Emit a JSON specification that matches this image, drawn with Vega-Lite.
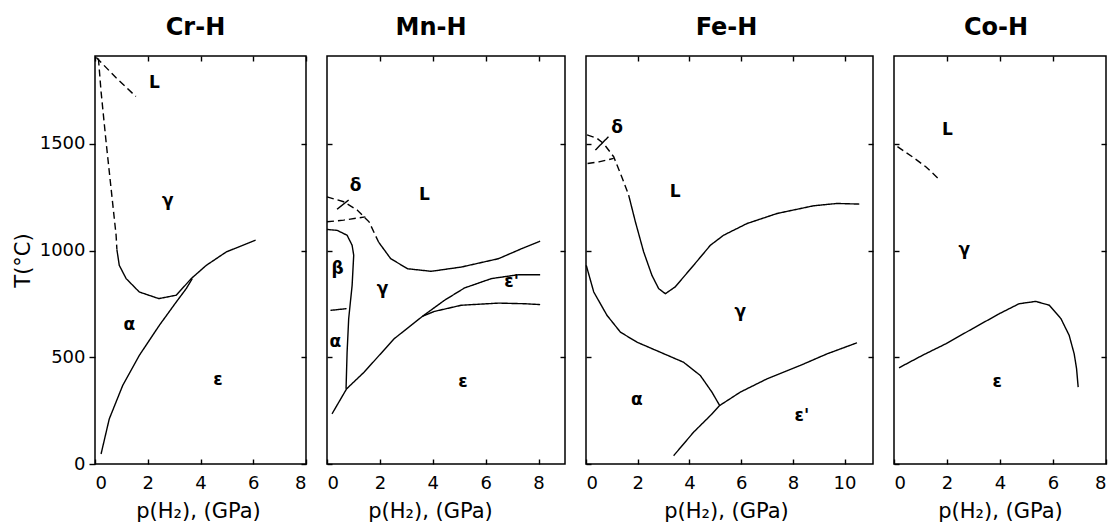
{
  "$schema": "https://vega.github.io/schema/vega-lite/v6.json",
  "background": "white",
  "padding": {"left": 11, "top": 14, "right": 2, "bottom": 5},
  "config": {
    "font": "DejaVu Sans",
    "view": {"stroke": "black", "strokeWidth": 1.5},
    "axis": {"domain": false, "grid": false, "labelFont": "DejaVu Sans", "labelFontSize": 18, "labelColor": "black", "tickColor": "black", "tickWidth": 1.4, "titleFont": "DejaVu Sans", "titleFontSize": 21, "titleFontWeight": "normal", "titleColor": "black"},
    "title": {"font": "DejaVu Sans", "fontSize": 24, "fontWeight": "bold", "color": "black", "baseline": "alphabetic", "offset": 15, "frame": "group", "anchor": "middle"},
    "line": {"color": "black", "strokeWidth": 1.4},
    "text": {"font": "DejaVu Sans", "fontSize": 17, "fontWeight": "bold", "color": "black", "align": "center", "baseline": "middle"}
  },
  "datasets": {
    "cr": [
      {"seg": "c1", "status": "estimated", "i": 0, "p": 0.05, "T": 1905},
      {"seg": "c1", "status": "estimated", "i": 1, "p": 0.8, "T": 1810},
      {"seg": "c1", "status": "estimated", "i": 2, "p": 1.55, "T": 1722},
      {"seg": "c2", "status": "estimated", "i": 0, "p": 0.13, "T": 1900},
      {"seg": "c2", "status": "estimated", "i": 1, "p": 0.23, "T": 1745},
      {"seg": "c2", "status": "estimated", "i": 2, "p": 0.42, "T": 1510},
      {"seg": "c2", "status": "estimated", "i": 3, "p": 0.61, "T": 1291},
      {"seg": "c2", "status": "estimated", "i": 4, "p": 0.8, "T": 1072},
      {"seg": "c2", "status": "estimated", "i": 5, "p": 0.83, "T": 1005},
      {"seg": "c3", "status": "measured", "i": 0, "p": 0.83, "T": 1005},
      {"seg": "c3", "status": "measured", "i": 1, "p": 0.92, "T": 931},
      {"seg": "c3", "status": "measured", "i": 2, "p": 1.18, "T": 869},
      {"seg": "c3", "status": "measured", "i": 3, "p": 1.68, "T": 806},
      {"seg": "c3", "status": "measured", "i": 4, "p": 2.42, "T": 775},
      {"seg": "c3", "status": "measured", "i": 5, "p": 3.08, "T": 791},
      {"seg": "c3", "status": "measured", "i": 6, "p": 3.65, "T": 869},
      {"seg": "c3", "status": "measured", "i": 7, "p": 4.22, "T": 931},
      {"seg": "c3", "status": "measured", "i": 8, "p": 4.98, "T": 994},
      {"seg": "c3", "status": "measured", "i": 9, "p": 6.09, "T": 1049},
      {"seg": "c4", "status": "measured", "i": 0, "p": 0.23, "T": 47},
      {"seg": "c4", "status": "measured", "i": 1, "p": 0.54, "T": 211},
      {"seg": "c4", "status": "measured", "i": 2, "p": 1.05, "T": 368},
      {"seg": "c4", "status": "measured", "i": 3, "p": 1.68, "T": 509},
      {"seg": "c4", "status": "measured", "i": 4, "p": 2.44, "T": 650},
      {"seg": "c4", "status": "measured", "i": 5, "p": 3.08, "T": 759},
      {"seg": "c4", "status": "measured", "i": 6, "p": 3.46, "T": 822},
      {"seg": "c4", "status": "measured", "i": 7, "p": 3.69, "T": 869}
    ],
    "cr_lab": [
      {"label": "L", "p": 2.25, "T": 1784},
      {"label": "γ", "p": 2.76, "T": 1232},
      {"label": "α", "p": 1.3, "T": 650},
      {"label": "ε", "p": 4.66, "T": 394}
    ],
    "mn": [
      {"seg": "m1", "status": "estimated", "i": 0, "p": 0, "T": 1252},
      {"seg": "m1", "status": "estimated", "i": 1, "p": 0.63, "T": 1229},
      {"seg": "m1", "status": "estimated", "i": 2, "p": 1.14, "T": 1190},
      {"seg": "m1", "status": "estimated", "i": 3, "p": 1.59, "T": 1135},
      {"seg": "m1", "status": "estimated", "i": 4, "p": 1.95, "T": 1040},
      {"seg": "m2", "status": "measured", "i": 0, "p": 1.95, "T": 1040},
      {"seg": "m2", "status": "measured", "i": 1, "p": 2.41, "T": 962},
      {"seg": "m2", "status": "measured", "i": 2, "p": 3.05, "T": 915},
      {"seg": "m2", "status": "measured", "i": 3, "p": 3.94, "T": 903},
      {"seg": "m2", "status": "measured", "i": 4, "p": 5.08, "T": 923},
      {"seg": "m2", "status": "measured", "i": 5, "p": 6.48, "T": 962},
      {"seg": "m2", "status": "measured", "i": 6, "p": 7.36, "T": 1009},
      {"seg": "m2", "status": "measured", "i": 7, "p": 8.06, "T": 1044},
      {"seg": "m3", "status": "estimated", "i": 0, "p": 0, "T": 1135},
      {"seg": "m3", "status": "estimated", "i": 1, "p": 0.63, "T": 1143},
      {"seg": "m3", "status": "estimated", "i": 2, "p": 1.45, "T": 1158},
      {"seg": "m4", "status": "measured", "i": 0, "p": 0.38, "T": 1194},
      {"seg": "m4", "status": "measured", "i": 1, "p": 0.82, "T": 1237},
      {"seg": "m5", "status": "measured", "i": 0, "p": 0, "T": 1099},
      {"seg": "m5", "status": "measured", "i": 1, "p": 0.38, "T": 1095},
      {"seg": "m5", "status": "measured", "i": 2, "p": 0.76, "T": 1072},
      {"seg": "m5", "status": "measured", "i": 3, "p": 0.95, "T": 1025},
      {"seg": "m5", "status": "measured", "i": 4, "p": 1.01, "T": 978},
      {"seg": "m5", "status": "measured", "i": 5, "p": 0.95, "T": 837},
      {"seg": "m5", "status": "measured", "i": 6, "p": 0.82, "T": 681},
      {"seg": "m5", "status": "measured", "i": 7, "p": 0.76, "T": 524},
      {"seg": "m5", "status": "measured", "i": 8, "p": 0.72, "T": 352},
      {"seg": "m6", "status": "measured", "i": 0, "p": 0.13, "T": 720},
      {"seg": "m6", "status": "measured", "i": 1, "p": 0.74, "T": 728},
      {"seg": "m7", "status": "measured", "i": 0, "p": 0.19, "T": 235},
      {"seg": "m7", "status": "measured", "i": 1, "p": 0.74, "T": 352},
      {"seg": "m7", "status": "measured", "i": 2, "p": 1.4, "T": 430},
      {"seg": "m7", "status": "measured", "i": 3, "p": 2.54, "T": 587},
      {"seg": "m7", "status": "measured", "i": 4, "p": 3.62, "T": 693},
      {"seg": "m7", "status": "measured", "i": 5, "p": 4.44, "T": 767},
      {"seg": "m7", "status": "measured", "i": 6, "p": 5.2, "T": 825},
      {"seg": "m7", "status": "measured", "i": 7, "p": 6.22, "T": 869},
      {"seg": "m7", "status": "measured", "i": 8, "p": 7.24, "T": 887},
      {"seg": "m7", "status": "measured", "i": 9, "p": 8.06, "T": 887},
      {"seg": "m8", "status": "measured", "i": 0, "p": 3.62, "T": 693},
      {"seg": "m8", "status": "measured", "i": 1, "p": 4.06, "T": 715},
      {"seg": "m8", "status": "measured", "i": 2, "p": 5.08, "T": 744},
      {"seg": "m8", "status": "measured", "i": 3, "p": 6.48, "T": 754},
      {"seg": "m8", "status": "measured", "i": 4, "p": 7.49, "T": 751},
      {"seg": "m8", "status": "measured", "i": 5, "p": 8.06, "T": 747}
    ],
    "mn_lab": [
      {"label": "δ", "p": 1.08, "T": 1302},
      {"label": "L", "p": 3.68, "T": 1260},
      {"label": "β", "p": 0.4, "T": 915},
      {"label": "γ", "p": 2.1, "T": 819},
      {"label": "ε'", "p": 6.98, "T": 853},
      {"label": "α", "p": 0.32, "T": 571},
      {"label": "ε", "p": 5.14, "T": 384}
    ],
    "fe": [
      {"seg": "f1", "status": "estimated", "i": 0, "p": 0.04, "T": 1542},
      {"seg": "f1", "status": "estimated", "i": 1, "p": 0.43, "T": 1526},
      {"seg": "f1", "status": "estimated", "i": 2, "p": 0.68, "T": 1502},
      {"seg": "f1", "status": "estimated", "i": 3, "p": 1.07, "T": 1440},
      {"seg": "f1", "status": "estimated", "i": 4, "p": 1.4, "T": 1340},
      {"seg": "f1", "status": "estimated", "i": 5, "p": 1.65, "T": 1260},
      {"seg": "f2", "status": "measured", "i": 0, "p": 1.65, "T": 1260},
      {"seg": "f2", "status": "measured", "i": 1, "p": 1.91, "T": 1135},
      {"seg": "f2", "status": "measured", "i": 2, "p": 2.23, "T": 994},
      {"seg": "f2", "status": "measured", "i": 3, "p": 2.55, "T": 884},
      {"seg": "f2", "status": "measured", "i": 4, "p": 2.81, "T": 822},
      {"seg": "f2", "status": "measured", "i": 5, "p": 3.07, "T": 798},
      {"seg": "f2", "status": "measured", "i": 6, "p": 3.45, "T": 830},
      {"seg": "f2", "status": "measured", "i": 7, "p": 4.16, "T": 931},
      {"seg": "f2", "status": "measured", "i": 8, "p": 4.81, "T": 1025},
      {"seg": "f2", "status": "measured", "i": 9, "p": 5.32, "T": 1072},
      {"seg": "f2", "status": "measured", "i": 10, "p": 6.23, "T": 1127},
      {"seg": "f2", "status": "measured", "i": 11, "p": 7.39, "T": 1174},
      {"seg": "f2", "status": "measured", "i": 12, "p": 8.8, "T": 1210},
      {"seg": "f2", "status": "measured", "i": 13, "p": 9.71, "T": 1221},
      {"seg": "f2", "status": "measured", "i": 14, "p": 10.57, "T": 1218},
      {"seg": "f3", "status": "estimated", "i": 0, "p": 0.06, "T": 1408},
      {"seg": "f3", "status": "estimated", "i": 1, "p": 0.5, "T": 1416},
      {"seg": "f3", "status": "estimated", "i": 2, "p": 1.07, "T": 1432},
      {"seg": "f4", "status": "measured", "i": 0, "p": 0.36, "T": 1471},
      {"seg": "f4", "status": "measured", "i": 1, "p": 0.87, "T": 1534},
      {"seg": "f5", "status": "measured", "i": 0, "p": 0.01, "T": 931},
      {"seg": "f5", "status": "measured", "i": 1, "p": 0.3, "T": 806},
      {"seg": "f5", "status": "measured", "i": 2, "p": 0.81, "T": 697},
      {"seg": "f5", "status": "measured", "i": 3, "p": 1.33, "T": 618},
      {"seg": "f5", "status": "measured", "i": 4, "p": 1.97, "T": 571},
      {"seg": "f5", "status": "measured", "i": 5, "p": 2.87, "T": 524},
      {"seg": "f5", "status": "measured", "i": 6, "p": 3.77, "T": 477},
      {"seg": "f5", "status": "measured", "i": 7, "p": 4.42, "T": 415},
      {"seg": "f5", "status": "measured", "i": 8, "p": 4.87, "T": 337},
      {"seg": "f5", "status": "measured", "i": 9, "p": 5.17, "T": 274},
      {"seg": "f6", "status": "measured", "i": 0, "p": 3.39, "T": 39},
      {"seg": "f6", "status": "measured", "i": 1, "p": 4.16, "T": 149},
      {"seg": "f6", "status": "measured", "i": 2, "p": 4.81, "T": 227},
      {"seg": "f6", "status": "measured", "i": 3, "p": 5.17, "T": 274},
      {"seg": "f6", "status": "measured", "i": 4, "p": 5.97, "T": 337},
      {"seg": "f6", "status": "measured", "i": 5, "p": 7.0, "T": 399},
      {"seg": "f6", "status": "measured", "i": 6, "p": 8.29, "T": 462},
      {"seg": "f6", "status": "measured", "i": 7, "p": 9.32, "T": 516},
      {"seg": "f6", "status": "measured", "i": 8, "p": 10.48, "T": 568}
    ],
    "fe_lab": [
      {"label": "δ", "p": 1.2, "T": 1576},
      {"label": "L", "p": 3.45, "T": 1276},
      {"label": "γ", "p": 5.97, "T": 712},
      {"label": "α", "p": 1.97, "T": 298},
      {"label": "ε'", "p": 8.35, "T": 227}
    ],
    "co": [
      {"seg": "k1", "status": "estimated", "i": 0, "p": 0.13, "T": 1487},
      {"seg": "k1", "status": "estimated", "i": 1, "p": 0.69, "T": 1440},
      {"seg": "k1", "status": "estimated", "i": 2, "p": 1.2, "T": 1393},
      {"seg": "k1", "status": "estimated", "i": 3, "p": 1.67, "T": 1338},
      {"seg": "k2", "status": "measured", "i": 0, "p": 0.19, "T": 451},
      {"seg": "k2", "status": "measured", "i": 1, "p": 1.07, "T": 509},
      {"seg": "k2", "status": "measured", "i": 2, "p": 1.95, "T": 563},
      {"seg": "k2", "status": "measured", "i": 3, "p": 2.96, "T": 634},
      {"seg": "k2", "status": "measured", "i": 4, "p": 3.97, "T": 704},
      {"seg": "k2", "status": "measured", "i": 5, "p": 4.72, "T": 751},
      {"seg": "k2", "status": "measured", "i": 6, "p": 5.35, "T": 762},
      {"seg": "k2", "status": "measured", "i": 7, "p": 5.86, "T": 744},
      {"seg": "k2", "status": "measured", "i": 8, "p": 6.3, "T": 681},
      {"seg": "k2", "status": "measured", "i": 9, "p": 6.61, "T": 603},
      {"seg": "k2", "status": "measured", "i": 10, "p": 6.8, "T": 516},
      {"seg": "k2", "status": "measured", "i": 11, "p": 6.89, "T": 446},
      {"seg": "k2", "status": "measured", "i": 12, "p": 6.95, "T": 360}
    ],
    "co_lab": [
      {"label": "L", "p": 2.02, "T": 1565},
      {"label": "γ", "p": 2.65, "T": 1002},
      {"label": "ε", "p": 3.9, "T": 384}
    ]
  },
  "bounds": "flush",
  "spacing": 21,
  "hconcat": [
    {
      "title": {"text": "Cr-H", "dx": -5},
      "width": 211,
      "height": 408,
      "layer": [
        {
          "data": {"name": "cr"},
          "mark": {"type": "line"},
          "encoding": {
            "x": {"field": "p", "type": "quantitative", "scale": {"domain": [0, 8], "nice": false, "zero": false}, "axis": {"orient": "bottom", "values": [0, 2, 4, 6, 8], "tickSize": -5, "labelPadding": 15.5, "title": "p(H₂), (GPa)", "titleBaseline": "alphabetic", "titleY": 53, "titleX": 103}},
            "y": {"field": "T", "type": "quantitative", "scale": {"domain": [0, 1912], "nice": false}, "axis": {"orient": "left", "values": [0, 500, 1000, 1500], "format": "d", "tickSize": 6, "labelPadding": 4, "title": "T(°C)", "titlePadding": 6}},
            "detail": {"field": "seg"},
            "order": {"field": "i"},
            "strokeDash": {"field": "status", "type": "nominal", "scale": {"domain": ["measured", "estimated"], "range": [[1, 0], [7, 4]]}, "legend": null}
          }
        },
        {
          "data": {"name": "cr"},
          "mark": {"type": "point", "opacity": 0},
          "encoding": {
            "x": {"field": "p", "type": "quantitative", "axis": {"orient": "top", "values": [0, 2, 4, 6, 8], "tickSize": -5, "labels": false, "title": null}},
            "y": {"field": "T", "type": "quantitative", "axis": {"orient": "right", "values": [0, 500, 1000, 1500], "tickSize": -5, "labels": false, "title": null}}
          }
        },
        {
          "data": {"name": "cr_lab"},
          "mark": {"type": "text"},
          "encoding": {
            "x": {"field": "p", "type": "quantitative", "axis": null},
            "y": {"field": "T", "type": "quantitative", "axis": null},
            "text": {"field": "label"}
          }
        }
      ],
      "resolve": {"axis": {"x": "independent", "y": "independent"}}
    },
    {
      "title": {"text": "Mn-H", "dx": -15},
      "width": 238,
      "height": 408,
      "layer": [
        {
          "data": {"name": "mn"},
          "mark": {"type": "line"},
          "encoding": {
            "x": {"field": "p", "type": "quantitative", "scale": {"domain": [0, 9], "nice": false, "zero": false}, "axis": {"orient": "bottom", "values": [0, 2, 4, 6, 8], "tickSize": -5, "labelPadding": 15.5, "title": "p(H₂), (GPa)", "titleBaseline": "alphabetic", "titleY": 53, "titleX": 103}},
            "y": {"field": "T", "type": "quantitative", "scale": {"domain": [0, 1912], "nice": false}, "axis": {"orient": "left", "values": [0, 500, 1000, 1500], "tickSize": -5, "labels": false, "title": null}},
            "detail": {"field": "seg"},
            "order": {"field": "i"},
            "strokeDash": {"field": "status", "type": "nominal", "scale": {"domain": ["measured", "estimated"], "range": [[1, 0], [7, 4]]}, "legend": null}
          }
        },
        {
          "data": {"name": "mn"},
          "mark": {"type": "point", "opacity": 0},
          "encoding": {
            "x": {"field": "p", "type": "quantitative", "axis": {"orient": "top", "values": [2, 4, 6, 8], "tickSize": -5, "labels": false, "title": null}},
            "y": {"field": "T", "type": "quantitative", "axis": {"orient": "right", "values": [500, 1000, 1500], "tickSize": -5, "labels": false, "title": null}}
          }
        },
        {
          "data": {"name": "mn_lab"},
          "mark": {"type": "text"},
          "encoding": {
            "x": {"field": "p", "type": "quantitative", "axis": null},
            "y": {"field": "T", "type": "quantitative", "axis": null},
            "text": {"field": "label"}
          }
        }
      ],
      "resolve": {"axis": {"x": "independent", "y": "independent"}}
    },
    {
      "title": {"text": "Fe-H", "dx": -3},
      "width": 287,
      "height": 408,
      "layer": [
        {
          "data": {"name": "fe"},
          "mark": {"type": "line"},
          "encoding": {
            "x": {"field": "p", "type": "quantitative", "scale": {"domain": [0, 11.1], "nice": false, "zero": false}, "axis": {"orient": "bottom", "values": [0, 2, 4, 6, 8, 10], "tickSize": -5, "labelPadding": 15.5, "title": "p(H₂), (GPa)", "titleBaseline": "alphabetic", "titleY": 53, "titleX": 140}},
            "y": {"field": "T", "type": "quantitative", "scale": {"domain": [0, 1912], "nice": false}, "axis": {"orient": "left", "values": [0, 500, 1000, 1500], "tickSize": -5, "labels": false, "title": null}},
            "detail": {"field": "seg"},
            "order": {"field": "i"},
            "strokeDash": {"field": "status", "type": "nominal", "scale": {"domain": ["measured", "estimated"], "range": [[1, 0], [7, 4]]}, "legend": null}
          }
        },
        {
          "data": {"name": "fe"},
          "mark": {"type": "point", "opacity": 0},
          "encoding": {
            "x": {"field": "p", "type": "quantitative", "axis": {"orient": "top", "values": [2, 4, 6, 8, 10], "tickSize": -5, "labels": false, "title": null}},
            "y": {"field": "T", "type": "quantitative", "axis": {"orient": "right", "values": [500, 1000, 1500], "tickSize": -5, "labels": false, "title": null}}
          }
        },
        {
          "data": {"name": "fe_lab"},
          "mark": {"type": "text"},
          "encoding": {
            "x": {"field": "p", "type": "quantitative", "axis": null},
            "y": {"field": "T", "type": "quantitative", "axis": null},
            "text": {"field": "label"}
          }
        }
      ],
      "resolve": {"axis": {"x": "independent", "y": "independent"}}
    },
    {
      "title": {"text": "Co-H", "dx": -4},
      "width": 212,
      "height": 408,
      "layer": [
        {
          "data": {"name": "co"},
          "mark": {"type": "line"},
          "encoding": {
            "x": {"field": "p", "type": "quantitative", "scale": {"domain": [0, 8], "nice": false, "zero": false}, "axis": {"orient": "bottom", "values": [0, 2, 4, 6, 8], "tickSize": -5, "labelPadding": 15.5, "title": "p(H₂), (GPa)", "titleBaseline": "alphabetic", "titleY": 53, "titleX": 106}},
            "y": {"field": "T", "type": "quantitative", "scale": {"domain": [0, 1912], "nice": false}, "axis": {"orient": "left", "values": [0, 500, 1000, 1500], "tickSize": -5, "labels": false, "title": null}},
            "detail": {"field": "seg"},
            "order": {"field": "i"},
            "strokeDash": {"field": "status", "type": "nominal", "scale": {"domain": ["measured", "estimated"], "range": [[1, 0], [7, 4]]}, "legend": null}
          }
        },
        {
          "data": {"name": "co"},
          "mark": {"type": "point", "opacity": 0},
          "encoding": {
            "x": {"field": "p", "type": "quantitative", "axis": {"orient": "top", "values": [2, 4, 6], "tickSize": -5, "labels": false, "title": null}},
            "y": {"field": "T", "type": "quantitative", "axis": {"orient": "right", "values": [500, 1000, 1500], "tickSize": -5, "labels": false, "title": null}}
          }
        },
        {
          "data": {"name": "co_lab"},
          "mark": {"type": "text"},
          "encoding": {
            "x": {"field": "p", "type": "quantitative", "axis": null},
            "y": {"field": "T", "type": "quantitative", "axis": null},
            "text": {"field": "label"}
          }
        }
      ],
      "resolve": {"axis": {"x": "independent", "y": "independent"}}
    }
  ]
}
